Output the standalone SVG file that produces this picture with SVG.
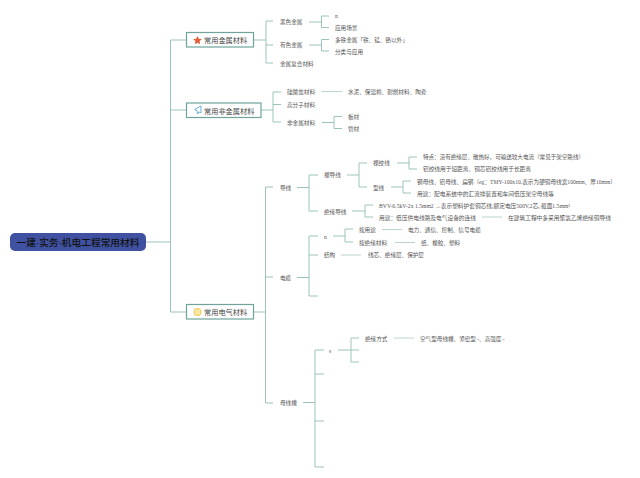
<svg xmlns="http://www.w3.org/2000/svg" width="640" height="478" viewBox="0 0 640 478">
<style>
text{font-family:"Noto Sans CJK SC","Liberation Sans",sans-serif;fill:#555;font-size:5.6px;dominant-baseline:central}
.s{font-family:"Liberation Serif","Noto Sans CJK SC",serif}
.m{font-size:7.2px;fill:#444}
.r{font-size:9.5px;fill:#111;font-weight:500}
.b{fill:#fff;stroke:#6fa39b;stroke-width:1.2}
#connectors path{fill:none;stroke:#b9d3cd;stroke-width:1}
#connectors .d{stroke:#9cc3bb}
</style>
<rect width="640" height="478" fill="#fff"/>
<g id="connectors">
<path class="d" d="M146 242H170.500M170.500 40V312M170.500 40H186M170.500 110H186M170.500 312H186"/>
<path class="d" d="M253 40H266M266 21V63M266 21H273M266 45H273M266 63H273"/>
<path class="d" d="M309 22H321.500M321.500 16V27.500M321.500 16H329M321.500 27.500H329"/>
<path class="d" d="M309 45H321.500M321.500 39.500V51M321.500 39.500H329M321.500 51H329"/>
<path class="d" d="M261 110H273M273 92V122M273 92H281M273 104.500H281M273 122H281"/>
<path d="M322 91.500H342"/>
<path class="d" d="M322 122.500H334M334 116.500V128.500M334 116.500H342M334 128.500H342"/>
<path class="d" d="M253 312H265.500M265.500 187V403M265.500 187H273M265.500 277H273M265.500 403H273"/>
<path class="d" d="M297 187.500H309M309 175V211M309 175H318M309 211H318"/>
<path class="d" d="M347 175H359M359 163V187M359 163H367M359 187H367"/>
<path class="d" d="M397 163H409M409 157V169M409 157H417M409 169H417"/>
<path class="d" d="M391 187H403M403 181V193M403 181H411M403 193H411"/>
<path class="d" d="M352 211H365M365 205V217M365 205H373M365 217H373"/>
<path d="M482 217H502"/>
<path class="d" d="M297 277.500H309M309 236V296M309 236H318M309 255H318M309 296H318"/>
<path class="d" d="M333 236H345M345 229V242M345 229H353M345 242H353"/>
<path d="M382 229.500H402M395 242.500H415M341 255H361"/>
<path class="d" d="M303 402.500H315M315 350V467M315 350H324M315 374H324M315 421H324M315 467H324"/>
<path class="d" d="M338 350H351M351 338V362M351 338H359M351 350H359M351 362H359"/>
<path d="M394 338H414"/>
</g>
<g id="root"><rect x="10" y="233" width="136" height="18" rx="5" fill="#3f51a0"/><text class="r" x="16.500" y="242" textLength="123" lengthAdjust="spacingAndGlyphs">一建<tspan font-family="Liberation Sans">·</tspan>实务<tspan font-family="Liberation Sans">·</tspan>机电工程常用材料</text></g>
<g id="n1"><rect class="b" x="186.500" y="32.500" width="67" height="14.500"/><path d="M197.500 36l1.300 2.700 3 .4-2.200 2.100.5 3-2.600-1.400-2.600 1.400.5-3-2.200-2.100 3-.4z" fill="#e2603a"/><text class="m" x="204" y="40">常用金属材料</text></g>
<g id="n2"><rect class="b" x="186.500" y="103" width="74.500" height="14.500"/><path d="M201 106l-6.500 3.500 2.500 1.200.5 3.300 1.500-2 2 .8z" fill="#fff" stroke="#5aa6d8" stroke-width=".9"/><text class="m" x="204" y="110.500">常用非金属材料</text></g>
<g id="n3"><rect class="b" x="186.500" y="304.500" width="67" height="14.500"/><circle cx="197.500" cy="312" r="3.300" fill="#fff3c4" stroke="#f2cd5c" stroke-width="1.200"/><circle cx="197.500" cy="312" r="1.300" fill="none" stroke="#f2cd5c" stroke-width=".7"/><text class="m" x="204" y="312">常用电气材料</text></g>
<g id="t1"><text x="280" y="22">黑色金属</text></g>
<g id="t2"><text x="280" y="45">有色金属</text></g>
<g id="t3"><text x="280" y="63.500">金属复合材料</text></g>
<g id="t4"><text class="s" x="335" y="16">n</text></g>
<g id="t5"><text x="335" y="27.500">应用场景</text></g>
<g id="t6"><text x="335" y="39.500">多铁金属「铁、锰、铬以外」</text></g>
<g id="t7"><text x="335" y="51.500">分类与应用</text></g>
<g id="t8"><text x="287" y="92">硅酸盐材料</text></g>
<g id="t9"><text x="287" y="104.500">高分子材料</text></g>
<g id="t10"><text x="287" y="122.500">非金属材料</text></g>
<g id="t11"><text x="348" y="92">水泥、保温棉、耐燃材料、陶瓷</text></g>
<g id="t12"><text x="348" y="116.500">板材</text></g>
<g id="t13"><text x="348" y="128.500">管材</text></g>
<g id="t14"><text x="280" y="187.500">导线</text></g>
<g id="t15"><text x="280" y="277.500">电缆</text></g>
<g id="t16"><text x="280" y="403">母线槽</text></g>
<g id="t17"><text x="324" y="175">裸导线</text></g>
<g id="t18"><text x="324" y="211.500">绝缘导线</text></g>
<g id="t19"><text x="373" y="163">裸绞线</text></g>
<g id="t20"><text x="373" y="187.500">型线</text></g>
<g id="t21"><text x="423" y="157" textLength="161" lengthAdjust="spacingAndGlyphs">特点：没有绝缘层、散热好，可输送较大电流（常见于架空路线）</text></g>
<g id="t22"><text x="423" y="169" textLength="108" lengthAdjust="spacingAndGlyphs">铝绞线用于短距离、铜芯铝绞线用于长距离</text></g>
<g id="t23"><text x="417" y="182" textLength="199" lengthAdjust="spacingAndGlyphs">钢母线、铝母线、扁钢（<tspan class="s">eg：TMY-100x10,</tspan>表示为硬铜母线宽<tspan class="s">100mm</tspan>、厚<tspan class="s">10mm</tspan>）</text></g>
<g id="t24"><text x="417" y="193.500" textLength="137" lengthAdjust="spacingAndGlyphs">用途：配电系统中的汇流排装置和车间低压架空母线等</text></g>
<g id="t25"><text x="379" y="205.500" textLength="191" lengthAdjust="spacingAndGlyphs"><tspan class="s">BVV-0.5kV-2x 1.5mm2 →</tspan>表示塑料护套铜芯线,额定电压<tspan class="s">500V,2</tspan>芯, 截面<tspan class="s">1.5mm²</tspan></text></g>
<g id="t26"><text x="379" y="217.500" textLength="97" lengthAdjust="spacingAndGlyphs">用途：低压供电线路及电气设备的连线</text></g>
<g id="t27"><text x="508" y="217.500" textLength="103" lengthAdjust="spacingAndGlyphs">在建筑工程中多采用聚氯乙烯绝缘铜导线</text></g>
<g id="t28"><text class="s" x="324" y="236.500">n</text></g>
<g id="t29"><text x="359" y="229.500">按用途</text></g>
<g id="t30"><text x="359" y="242.500">按绝缘材料</text></g>
<g id="t31"><text x="408" y="229.500">电力、通信、控制、信号电缆</text></g>
<g id="t32"><text x="421" y="242.500">纸、橡胶、塑料</text></g>
<g id="t33"><text x="324" y="255">结构</text></g>
<g id="t34"><text x="368" y="255">线芯、绝缘层、保护层</text></g>
<g id="t35"><text class="s" x="329" y="351">s</text></g>
<g id="t36"><text x="365" y="338.500">绝缘方式</text></g>
<g id="t37"><text x="420" y="338.500">空气型母线槽、紧密型~、高强度~</text></g>
</svg>
